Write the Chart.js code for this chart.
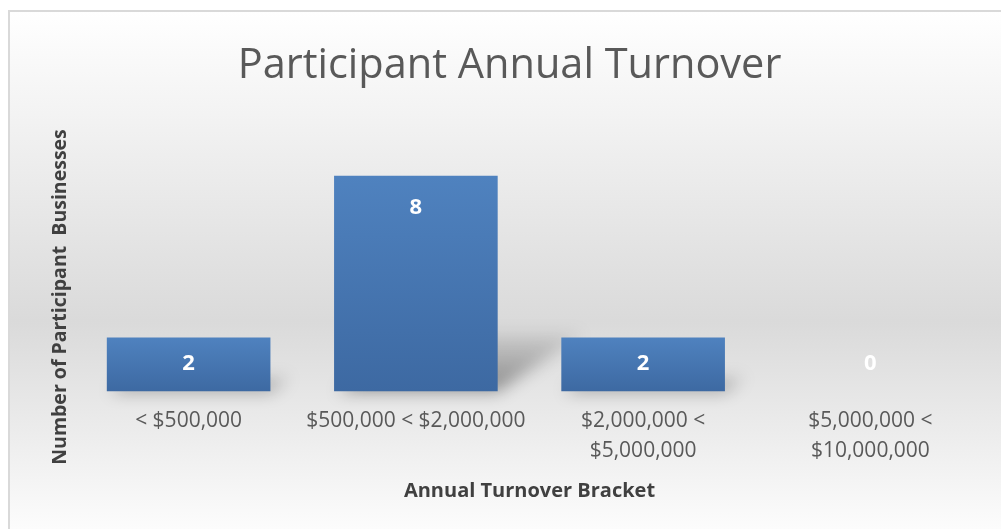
<!DOCTYPE html>
<html>
<head>
<meta charset="utf-8">
<script src="https://cdn.jsdelivr.net/npm/chart.js@4.4.1/dist/chart.umd.min.js"></script>
<style>
    html, body { margin: 0; padding: 0; background: #ffffff; }
    #wrap { width: 1001px; height: 529px; }
</style>
</head>
<body>
<div id="wrap"><canvas id="turnover-chart" width="1001" height="529"></canvas></div>
<script>
// Data
const categories = [
    ["< $500,000"],
    ["$500,000 < $2,000,000"],
    ["$2,000,000 <", "$5,000,000"],
    ["$5,000,000 <", "$10,000,000"]
];
const businessCounts = [2, 8, 2, 0];

const chartTitle = "Participant Annual Turnover";
const xAxisTitle = "Annual Turnover Bracket";
const yAxisTitle = "Number of Participant  Businesses";

// Element
let chartElement = document.querySelector("#turnover-chart");

// Plugins
const backgroundPlugin = {
    id: "background",
    beforeDraw: (chart) => {
        const ctx = chart.ctx;
        const h = chart.height;
        const grad = ctx.createLinearGradient(0, 10, 0, h);
        grad.addColorStop(0, "#ffffff");
        grad.addColorStop(0.2, "#f3f3f3");
        grad.addColorStop(0.6, "#dadada");
        grad.addColorStop(1, "#fcfcfc");
        ctx.save();
        ctx.fillStyle = "#ffffff";
        ctx.fillRect(0, 0, chart.width, h);
        ctx.fillStyle = grad;
        ctx.fillRect(9, 11, chart.width, h);
        ctx.strokeStyle = "#d9d9d9";
        ctx.lineWidth = 2;
        ctx.strokeRect(9, 11, chart.width + 20, h + 20);
        ctx.restore();
    }
};

const barShadowPlugin = {
    id: "barShadow",
    beforeDatasetsDraw: (chart) => {
        const ctx = chart.ctx;
        const meta = chart.getDatasetMeta(0);
        ctx.save();
        ctx.filter = "blur(8px)";
        meta.data.forEach(bar => {
            const h = bar.base - bar.y;
            if (h <= 0) return;
            const left = bar.x - bar.width / 2;
            const right = bar.x + bar.width / 2;
            const dx = h * 0.4;
            const dy = h * 0.27;
            const grad = ctx.createLinearGradient(0, bar.base, 0, bar.base - dy);
            grad.addColorStop(0, "rgba(0,0,0,0.40)");
            grad.addColorStop(1, "rgba(0,0,0,0.07)");
            ctx.fillStyle = grad;
            ctx.beginPath();
            ctx.moveTo(left + 4, bar.base);
            ctx.lineTo(right, bar.base);
            ctx.lineTo(right + dx, bar.base - dy);
            ctx.lineTo(left + dx, bar.base - dy);
            ctx.closePath();
            ctx.fill();
        });
        ctx.restore();
    }
};

const labelsPlugin = {
    id: "valueLabels",
    afterDatasetsDraw: (chart) => {
        const ctx = chart.ctx;
        const meta = chart.getDatasetMeta(0);
        ctx.save();
        ctx.font = "bold 22px 'Open Sans'";
        ctx.fillStyle = "#ffffff";
        ctx.textAlign = "center";
        ctx.textBaseline = "middle";
        meta.data.forEach((bar, i) => {
            const y = Math.min(bar.y + 32, bar.base - 28);
            ctx.fillText(String(businessCounts[i]), bar.x, y);
        });
        ctx.restore();
    },
    afterDraw: (chart) => {
        // y axis title, centred like the original
        const ctx = chart.ctx;
        ctx.save();
        ctx.translate(60, 297);
        ctx.rotate(-Math.PI / 2);
        ctx.font = "bold 19.5px 'Open Sans'";
        ctx.fillStyle = "#404040";
        ctx.textAlign = "center";
        ctx.textBaseline = "middle";
        ctx.fillText(yAxisTitle, 0, 0);
        ctx.restore();
    }
};

const barFill = (context) => {
    const chart = context.chart;
    const y = chart.scales.y;
    if (!y || context.dataIndex === undefined) return "#4a7ab6";
    const value = businessCounts[context.dataIndex];
    const top = y.getPixelForValue(value);
    const base = y.getPixelForValue(0);
    if (!isFinite(top) || top === base) return "#4a7ab6";
    const grad = chart.ctx.createLinearGradient(0, top, 0, base);
    grad.addColorStop(0, "#4f82bf");
    grad.addColorStop(1, "#3d69a2");
    return grad;
};

new Chart(chartElement, {
    type: "bar",
    data: {
        labels: categories,
        datasets: [{
            label: "Businesses",
            data: businessCounts,
            backgroundColor: barFill,
            borderWidth: 0,
            barPercentage: 0.72,
            categoryPercentage: 1
        }]
    },
    options: {
        responsive: false,
        animation: false,
        layout: {
            padding: {top: 0, left: 35, right: 17, bottom: 25.5}
        },
        plugins: {
            legend: {display: false},
            tooltip: {enabled: false},
            title: {
                display: true,
                text: chartTitle,
                color: "#595959",
                font: {family: "'Open Sans'", size: 41.5, weight: "normal", lineHeight: 1.2},
                padding: {top: 41, bottom: 31}
            }
        },
        scales: {
            x: {
                grid: {display: false},
                border: {display: false},
                ticks: {
                    color: "#595959",
                    padding: 7,
                    autoSkip: false,
                    maxRotation: 0,
                    font: {family: "'Open Sans'", size: 21, lineHeight: 1.43}
                },
                title: {
                    display: true,
                    text: xAxisTitle,
                    color: "#404040",
                    padding: {top: 6, bottom: 0},
                    font: {family: "'Open Sans'", size: 20, weight: "bold", lineHeight: 1.2}
                }
            },
            y: {
                min: 0,
                max: 10,
                grid: {display: false},
                border: {display: false},
                ticks: {display: false},
                afterFit: (scale) => { scale.width = 40; }
            }
        }
    },
    plugins: [backgroundPlugin, barShadowPlugin, labelsPlugin]
});
</script>
</body>
</html>
